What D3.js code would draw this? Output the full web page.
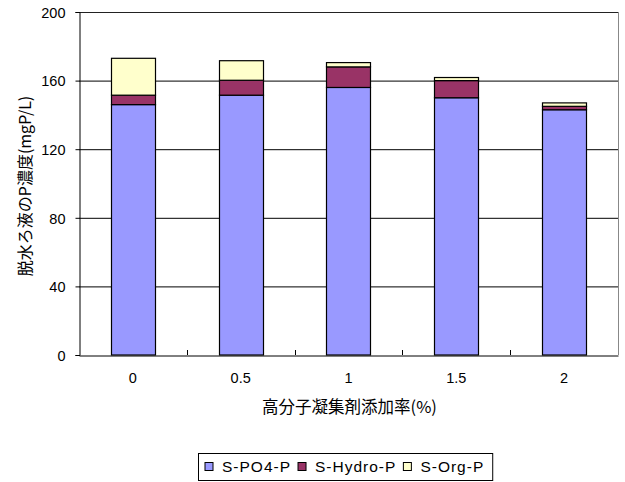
<!DOCTYPE html>
<meta charset="utf-8">
<script src="https://d3js.org/d3.v7.min.js"></script>
<style>
	body{
		margin:0;
		background:#fff;
		font-family:"Noto Sans CJK JP","Noto Sans",sans-serif;
	}
</style>
<div id="chart"></div>
<script>
	// data
	var categories = ["0","0.5","1","1.5","2"]
	var seriesNames = ["S-PO4-P","S-Hydro-P","S-Org-P"]
	var po4 = [146,151.5,156,150,143]
	var hydro = [5.5,8.7,12,10,2]
	var org = [21.5,11.4,2.5,1.8,2]
	var yTicks = [0,40,80,120,160,200]

	var colors = ["#9999FF","#993366","#FFFFCC"]

	var W = 625, H = 482
	var m = {left:79, right:7, top:12, bottom:127}
	var numFont = "'Liberation Sans',Arial,sans-serif"

	var svg = d3.select("#chart").append("svg").attr("width",W).attr("height",H)

	var x = d3.scaleBand().domain(categories).range([m.left,W-m.right]).paddingInner(0).paddingOuter(0)
	var y = d3.scaleLinear().domain([0,200]).range([H-m.bottom,m.top])

	var rows = categories.map(function(c,i){
		return {cat:c,"S-PO4-P":po4[i],"S-Hydro-P":hydro[i],"S-Org-P":org[i]}
	})
	var stacked = d3.stack().keys(seriesNames)(rows)

	// gridlines
	svg.append("g")
		.selectAll("line")
		.data(yTicks.slice(1,-1))
		.join("line")
		.attr("x1",m.left).attr("x2",W-m.right)
		.attr("y1",function(d){return y(d)+0.5}).attr("y2",function(d){return y(d)+0.5})
		.attr("stroke","#000").attr("stroke-width",1)

	// plot border top & right
	svg.append("line").attr("x1",m.left).attr("x2",W-m.right).attr("y1",m.top+0.5).attr("y2",m.top+0.5).attr("stroke","#222")
	svg.append("line").attr("x1",W-m.right+0.5).attr("x2",W-m.right+0.5).attr("y1",m.top).attr("y2",H-m.bottom).attr("stroke","#888")

	// bars
	var bw = x.bandwidth()*0.41
	svg.append("g")
		.selectAll("g")
		.data(stacked)
		.join("g")
		.attr("fill",function(d,i){return colors[i]})
		.selectAll("rect")
		.data(function(d){return d})
		.join("rect")
		.attr("x",function(d){return Math.round(x(d.data.cat)+x.bandwidth()/2-bw/2)+0.5})
		.attr("width",Math.round(bw))
		.attr("y",function(d){return y(d[1])})
		.attr("height",function(d){return y(d[0])-y(d[1])})
		.attr("stroke","#000").attr("stroke-width",1.2)

	// y axis
	var yAxis = svg.append("g")
		.attr("transform","translate("+(m.left+0.5)+",0)")
		.call(d3.axisLeft(y).tickValues(yTicks).tickSize(4).tickPadding(10))
	yAxis.select(".domain").attr("stroke","#000")
	yAxis.selectAll("text").style("font-size","14.5px").style("font-family",numFont).attr("fill","#000").attr("dy","0.36em")

	// x axis
	var xAxis = svg.append("g")
		.attr("transform","translate(0,"+(H-m.bottom+0.5)+")")
		.call(d3.axisBottom(x).tickSize(0).tickPadding(17))
	xAxis.select(".domain").attr("stroke","#000")
	xAxis.selectAll("text").style("font-size","14.5px").style("font-family",numFont).attr("fill","#000")
	// category boundary ticks pointing into the plot
	svg.append("g")
		.selectAll("line")
		.data(categories.slice(1))
		.join("line")
		.attr("x1",function(d){return Math.round(x(d))+0.5}).attr("x2",function(d){return Math.round(x(d))+0.5})
		.attr("y1",H-m.bottom).attr("y2",H-m.bottom-5)
		.attr("stroke","#000")

	// axis titles
	svg.append("text").text("高分子凝集剤添加率(%)")
		.attr("x",(m.left+W-m.right)/2+1).attr("y",413)
		.attr("text-anchor","middle").style("font-size","16.5px")
	svg.append("text").text("脱水ろ液のP濃度(mgP/L)")
		.attr("transform","translate(31,186) rotate(-90)")
		.attr("text-anchor","middle").style("font-size","16px")

	// legend
	var legend = svg.append("g")
	var lx = 205, ly = 462
	var items = legend.selectAll("g").data(seriesNames).join("g")
	items.append("rect").attr("width",8).attr("height",8).attr("y",ly+0.5)
		.attr("fill",function(d,i){return colors[i]}).attr("stroke","#000")
	items.append("text").text(function(d){return d}).attr("x",17).attr("y",ly+9.5)
		.style("font-size","15.5px").style("font-family",numFont).style("letter-spacing","1px")
	items.each(function(){
		var g = d3.select(this)
		g.attr("transform","translate("+lx+",0)")
		lx += 17 + g.select("text").node().getComputedTextLength() + 7
	})
	legend.insert("rect",":first-child")
		.attr("x",198.5).attr("y",453.5).attr("width",lx-198+1).attr("height",27)
		.attr("fill","#fff").attr("stroke","#000")
</script>
